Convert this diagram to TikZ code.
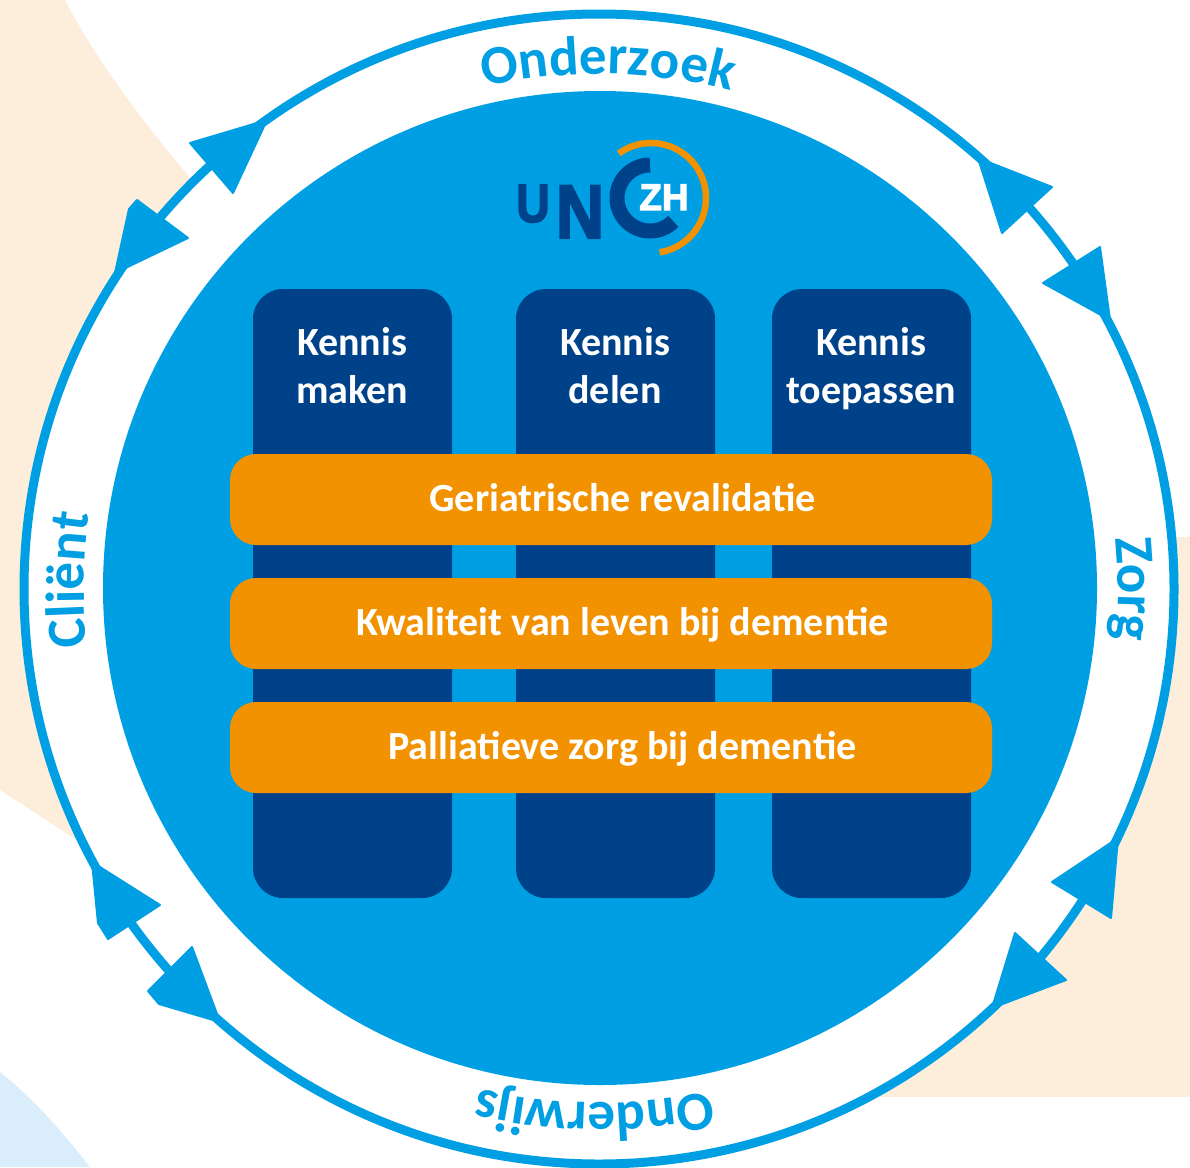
\documentclass[tikz,border=0pt]{standalone}
\usepackage{fontspec}
\setmainfont{Carlito}
\newfontfamily\logofont[BoldFeatures={FakeBold=3}]{Liberation Sans}
\usetikzlibrary{decorations.text}
\definecolor{uBlue}{HTML}{009FE3}
\definecolor{uDark}{HTML}{004289}
\definecolor{uOrange}{HTML}{F39200}
\definecolor{uPeach}{HTML}{FDEEDC}
\definecolor{uPale}{HTML}{D9EEFA}
\newcommand{\ringfont}{\fontsize{55}{62}\selectfont\bfseries\color{uBlue}}
\tikzset{
  column/.style={fill=uDark,rounded corners=30pt,minimum width=199pt,minimum height=609pt,inner sep=0pt,outer sep=0pt},
  band/.style={fill=uOrange,rounded corners=26pt,minimum width=762pt,minimum height=91pt,inner sep=0pt,outer sep=0pt},
  collabel/.style={text=white,font=\fontsize{40}{48}\selectfont\bfseries,align=center,inner sep=0pt},
  bandlabel/.style={text=white,font=\fontsize{40}{44}\selectfont\bfseries,inner sep=0pt,anchor=base},
  head/.style={fill=uBlue,draw=uBlue,line width=2pt,line join=round},
  ringtext/.style={decorate,decoration={text along path,text align=center,text={|\ringfont|#1}}}
}
\begin{document}
\begin{tikzpicture}[x=1pt,y=-1pt]
\useasboundingbox (0,0) rectangle (1190,1167);
\fill[white] (0,0) rectangle (1190,1167);
% background shapes
\fill[uPeach] (0,0) -- (65,0) .. controls (90,48) and (125,100) .. (190,178) -- (300,500) -- (80,842) -- (0,790) -- cycle;
\fill[uPeach] (880,537) -- (1190,537) -- (1190,1097) -- (880,1097) -- cycle;
\fill[uPale] (0,1072) .. controls (35,1100) and (65,1135) .. (90,1167) -- (0,1167) -- cycle;
% ring
\node[circle,draw=uBlue,fill=white,line width=9pt,minimum size=1150pt,inner sep=0pt,outer sep=0pt] (ring) at (599,589) {};
% arrow heads on the ring
\draw[head] (267,120) -- (190,143) -- (233,193) -- cycle;
\draw[head] (115,273) -- (129,209) -- (137,200) -- (188,238) -- cycle;
\draw[head] (978,158) -- (1052,187) -- (1002,233) -- cycle;
\draw[head] (1110,320) -- (1100,247) -- (1043,283) -- cycle;
\draw[head] (1118,838) -- (1052,882) -- (1111,918) -- cycle;
\draw[head] (992,1008) -- (1015,933) -- (1066,980) -- cycle;
\draw[head] (92,862) -- (160,905) -- (108,939) -- (98,923) -- cycle;
\draw[head] (220,1022) -- (192,947) -- (148,991) -- (159,1004) -- cycle;
% ring texts
\path[ringtext=Onderzoek] (599pt,-589pt) ++(120:515pt) arc[start angle=120,end angle=58,radius=515pt];
\path[ringtext=Zorg] (599pt,-589pt) ++(30:519pt) arc[start angle=30,end angle=-30,radius=519pt];
\path[ringtext=Onderwijs] (599pt,-589pt) ++(-58:514pt) arc[start angle=-58,end angle=-123,radius=514pt];
\path[ringtext=Cliënt] (599pt,-589pt) ++(209:515pt) arc[start angle=209,end angle=149,radius=515pt];
% inner disc
\node[circle,fill=uBlue,minimum size=994pt,inner sep=0pt,outer sep=0pt] (disc) at (600,588) {};
% logo
\draw[uOrange,line width=6.5pt] (651pt,-198pt) ++(126:55pt) arc[start angle=126,end angle=-81,radius=55pt];
\draw[uDark,line width=15pt] (650pt,-198pt) ++(90:33pt) arc[start angle=90,end angle=315,radius=33pt];
\node[anchor=base,inner sep=0pt,text=uDark,font=\logofont\fontsize{54}{54}\selectfont\bfseries,xscale=.86] (logoU) at (533,222) {U};
\node[anchor=base,inner sep=0pt,text=uDark,font=\logofont\fontsize{76}{76}\selectfont\bfseries,xscale=.88] (logoN) at (580,238) {N};
\node[anchor=base,inner sep=0pt,text=white,font=\logofont\fontsize{37}{37}\selectfont\bfseries] (logoZH) at (664,210) {ZH};
% columns
\node[column] (col1) at (352.5,593.5) {};
\node[column] (col2) at (615.5,593.5) {};
\node[column] (col3) at (871.5,593.5) {};
\node[collabel] (t1) at (352,368.5) {Kennis\\maken\vphantom{p}};
\node[collabel] (t2) at (615,368.5) {Kennis\\delen\vphantom{p}};
\node[collabel] (t3) at (871,368.5) {Kennis\\toepassen};
% bands
\node[band] (b1) at (611,499.5) {};
\node[band] (b2) at (611,623.5) {};
\node[band] (b3) at (611,747.5) {};
\node[bandlabel] (l1) at (622.5,511) {Geriatrische revalidatie};
\node[bandlabel] (l2) at (622.5,635) {Kwaliteit van leven bij dementie};
\node[bandlabel] (l3) at (622.5,759) {Palliatieve zorg bij dementie};
\end{tikzpicture}
\end{document}
